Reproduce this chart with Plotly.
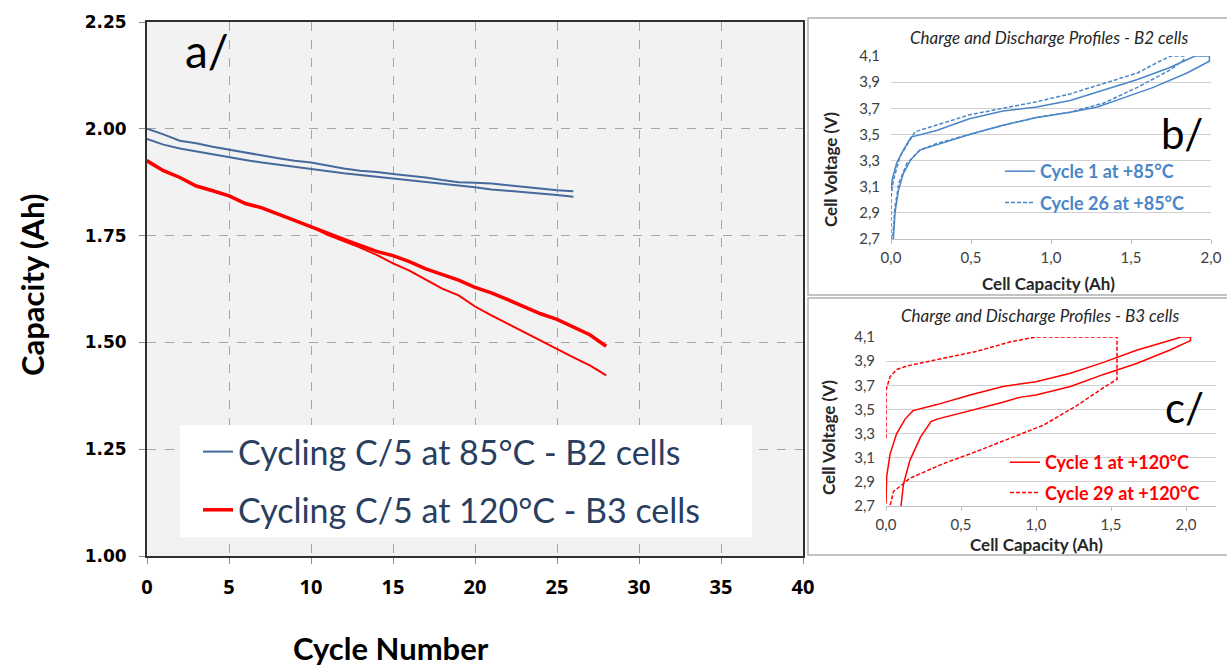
import plotly.graph_objects as go

W, H = 1227, 669

# ---- a/ capacity vs cycle number ----
cycles_b2 = list(range(0, 27))
cap_b2_cell1 = [2.000, 1.987, 1.972, 1.966, 1.958, 1.951, 1.944, 1.937, 1.931, 1.925,
                1.921, 1.914, 1.907, 1.902, 1.899, 1.894, 1.890, 1.886, 1.880, 1.875,
                1.874, 1.872, 1.868, 1.864, 1.860, 1.856, 1.854]
cap_b2_cell2 = [1.976, 1.963, 1.954, 1.947, 1.941, 1.933, 1.927, 1.921, 1.916, 1.910,
                1.905, 1.900, 1.896, 1.892, 1.888, 1.884, 1.880, 1.875, 1.871, 1.867,
                1.863, 1.858, 1.855, 1.852, 1.849, 1.845, 1.841]

cycles_b3 = list(range(0, 29))
cap_b3_cell1 = [1.925, 1.902, 1.886, 1.866, 1.855, 1.843, 1.825, 1.815, 1.800, 1.785,
                1.770, 1.754, 1.741, 1.727, 1.713, 1.703, 1.689, 1.672, 1.660, 1.646,
                1.629, 1.616, 1.600, 1.584, 1.567, 1.554, 1.537, 1.518, 1.491]
cap_b3_cell2 = [1.927, 1.903, 1.887, 1.867, 1.856, 1.844, 1.826, 1.816, 1.801, 1.786,
                1.771, 1.752, 1.737, 1.722, 1.705, 1.685, 1.668, 1.647, 1.626, 1.610,
                1.584, 1.563, 1.543, 1.524, 1.504, 1.484, 1.465, 1.446, 1.423]

# ---- b/ B2 cells charge / discharge profiles ----
b2_c1_cap = [0.00, 0.01, 0.035, 0.077, 0.125, 0.285, 0.49, 0.70, 0.91, 1.12, 1.33, 1.54,
             1.74, 1.90, 1.99, 1.99, 1.85, 1.64, 1.43, 1.29, 1.12, 0.91, 0.70, 0.49,
             0.285, 0.18, 0.12, 0.077, 0.046, 0.025, 0.015]
b2_c1_volt = [3.08, 3.17, 3.28, 3.38, 3.48, 3.53, 3.62, 3.68, 3.71, 3.76, 3.84, 3.92,
              4.01, 4.10, 4.10, 4.06, 3.97, 3.86, 3.77, 3.71, 3.67, 3.63, 3.57, 3.50,
              3.42, 3.38, 3.30, 3.20, 3.07, 2.90, 2.70]
b2_c26_cap = [0.00, 0.00, 0.015, 0.056, 0.15, 0.285, 0.49, 0.70, 0.91, 1.12, 1.33, 1.54,
              1.68, 1.75, 1.83, 1.83, 1.74, 1.54, 1.33, 1.12, 0.91, 0.70, 0.49, 0.285,
              0.18, 0.10, 0.05, 0.025, 0.01]
b2_c26_volt = [2.70, 3.02, 3.15, 3.33, 3.52, 3.57, 3.65, 3.70, 3.75, 3.81, 3.89, 3.97,
               4.06, 4.10, 4.10, 4.07, 3.99, 3.86, 3.74, 3.67, 3.63, 3.57, 3.50, 3.43,
               3.38, 3.28, 3.13, 2.95, 2.70]

# ---- c/ B3 cells charge / discharge profiles ----
b3_c1_cap = [0.00, 0.004, 0.027, 0.071, 0.127, 0.18, 0.34, 0.56, 0.78, 1.00, 1.23, 1.45,
             1.67, 1.89, 1.97, 2.03, 2.03, 1.89, 1.67, 1.45, 1.23, 1.00, 0.89, 0.78,
             0.56, 0.34, 0.30, 0.23, 0.16, 0.116, 0.10]
b3_c1_volt = [2.72, 2.94, 3.13, 3.30, 3.42, 3.49, 3.54, 3.62, 3.69, 3.73, 3.80, 3.89,
              3.99, 4.07, 4.10, 4.10, 4.07, 3.99, 3.88, 3.79, 3.69, 3.62, 3.60, 3.56,
              3.49, 3.42, 3.40, 3.27, 3.08, 2.88, 2.70]
b3_c29_cap = [0.00, 0.00, 0.027, 0.071, 0.138, 0.38, 0.60, 0.83, 1.00, 1.54, 1.54, 1.45,
              1.27, 1.05, 0.83, 0.60, 0.38, 0.16, 0.05, 0.027]
b3_c29_volt = [3.26, 3.66, 3.77, 3.83, 3.86, 3.92, 3.98, 4.06, 4.10, 4.10, 3.75, 3.68,
               3.53, 3.37, 3.26, 3.15, 3.05, 2.93, 2.82, 2.70]

volt_ticks = [2.7, 2.9, 3.1, 3.3, 3.5, 3.7, 3.9, 4.1]
volt_labels = ["2,7", "2,9", "3,1", "3,3", "3,5", "3,7", "3,9", "4,1"]
cap_ticks = [0, 0.5, 1.0, 1.5, 2.0]
cap_labels = ["0,0", "0,5", "1,0", "1,5", "2,0"]

BLUE_A = "#46699c"
RED = "#ff0000"
BLUE_B = "#4a86c8"


def px_x(v):
    return v / W


def px_y(v):
    return 1 - v / H


fig = go.Figure()

# main chart
fig.add_trace(go.Scatter(x=cycles_b2, y=cap_b2_cell1, mode="lines",
                         line=dict(color=BLUE_A, width=2),
                         name="Cycling C/5 at 85°C - B2 cells", legendgroup="b2"))
fig.add_trace(go.Scatter(x=cycles_b2, y=cap_b2_cell2, mode="lines",
                         line=dict(color=BLUE_A, width=2), showlegend=False))
fig.add_trace(go.Scatter(x=cycles_b3, y=cap_b3_cell1, mode="lines",
                         line=dict(color=RED, width=3.5),
                         name="Cycling C/5 at 120°C - B3 cells", legendgroup="b3"))
fig.add_trace(go.Scatter(x=cycles_b3, y=cap_b3_cell2, mode="lines",
                         line=dict(color=RED, width=2), showlegend=False))

# inset b
fig.add_trace(go.Scatter(x=b2_c1_cap, y=b2_c1_volt, mode="lines", xaxis="x2", yaxis="y2",
                         line=dict(color=BLUE_B, width=1.5),
                         name="Cycle 1 at +85°C", legend="legend2", legendgroup="b_1"))
fig.add_trace(go.Scatter(x=b2_c26_cap, y=b2_c26_volt, mode="lines", xaxis="x2", yaxis="y2",
                         line=dict(color=BLUE_B, width=1.5, dash="4px,2px"),
                         name="Cycle 26 at +85°C", legend="legend2", legendgroup="b_26"))

# inset c
fig.add_trace(go.Scatter(x=b3_c1_cap, y=b3_c1_volt, mode="lines", xaxis="x3", yaxis="y3",
                         line=dict(color=RED, width=1.5),
                         name="Cycle 1 at +120°C", legend="legend3", legendgroup="c_1"))
fig.add_trace(go.Scatter(x=b3_c29_cap, y=b3_c29_volt, mode="lines", xaxis="x3", yaxis="y3",
                         line=dict(color=RED, width=1.5, dash="4px,2px"),
                         name="Cycle 29 at +120°C", legend="legend3", legendgroup="c_29"))

main_x = dict(range=[0, 40], dtick=5, tick0=0,
              domain=[px_x(147), px_x(803)], anchor="y", automargin=False,
              showgrid=True, gridcolor="#a6a6a6", griddash="dash", gridwidth=1,
              showline=True, mirror=True, linecolor="#303030", linewidth=2,
              ticks="outside", ticklen=6, tickcolor="#8c8c8c", ticklabelstandoff=6,
              zeroline=False,
              tickfont=dict(family="Open Sans", size=20, color="#000000", weight="bold"))
main_y = dict(range=[1.0, 2.25], dtick=0.25, tick0=1.0, tickformat=".2f",
              domain=[px_y(556), px_y(22)], anchor="x", automargin=False,
              showgrid=True, gridcolor="#a6a6a6", griddash="dash", gridwidth=1,
              showline=True, mirror=True, linecolor="#303030", linewidth=2,
              ticks="outside", ticklen=6, tickcolor="#8c8c8c", ticklabelstandoff=9,
              zeroline=False,
              tickfont=dict(family="DejaVu Sans", size=17, color="#000000", weight="bold"))

inset_font = dict(family="Lato", size=15, color="#404040")


def inset_axes(xdom, ydom, xmax, xname, yname):
    xa = dict(range=[0, xmax], domain=xdom, anchor=yname, tickvals=cap_ticks,
              ticktext=cap_labels, showgrid=False, zeroline=False, automargin=False,
              showline=True, linecolor="#bfbfbf", linewidth=1,
              ticks="outside", ticklen=4, tickcolor="#bfbfbf", ticklabelstandoff=1,
              tickfont=inset_font)
    ya = dict(range=[2.7, 4.1], domain=ydom, anchor=xname, tickvals=volt_ticks,
              ticktext=volt_labels, showgrid=True, gridcolor="#d0d0d0", gridwidth=1,
              zeroline=False, showline=False, ticks="", ticklabelstandoff=10,
              automargin=False, tickfont=inset_font)
    return xa, ya


xa2, ya2 = inset_axes([px_x(891), px_x(1211)], [px_y(239), px_y(56)], 2.0, "x2", "y2")
xa3, ya3 = inset_axes([px_x(886), px_x(1216)], [px_y(506), px_y(337)], 2.2, "x3", "y3")

annotations = [
    dict(text="a/", x=px_x(207), y=px_y(50), font=dict(family="Lato", size=46, color="#000")),
    dict(text="b/", x=px_x(1182), y=px_y(133), font=dict(family="Lato", size=42, color="#000")),
    dict(text="c/", x=px_x(1184), y=px_y(407), font=dict(family="Lato", size=42, color="#000")),
    dict(text="Capacity (Ah)", x=px_x(32), y=px_y(285), textangle=-90,
         font=dict(family="Lato", size=31, color="#000", weight="bold")),
    dict(text="Cycle Number", x=px_x(391), y=px_y(648),
         font=dict(family="Lato", size=31, color="#000", weight="bold")),
    dict(text="Charge and Discharge Profiles - B2 cells", x=px_x(1049), y=px_y(38),
         font=dict(family="Lato", size=17, color="#262626", style="italic")),
    dict(text="Cell Capacity (Ah)", x=px_x(1048), y=px_y(283),
         font=dict(family="Lato", size=17, color="#262626", weight="bold")),
    dict(text="Cell Voltage (V)", x=px_x(830), y=px_y(170), textangle=-90,
         font=dict(family="Lato", size=17, color="#262626", weight="bold")),
    dict(text="Charge and Discharge Profiles - B3 cells", x=px_x(1040), y=px_y(315),
         font=dict(family="Lato", size=17, color="#262626", style="italic")),
    dict(text="Cell Capacity (Ah)", x=px_x(1036), y=px_y(544),
         font=dict(family="Lato", size=17, color="#262626", weight="bold")),
    dict(text="Cell Voltage (V)", x=px_x(828), y=px_y(438), textangle=-90,
         font=dict(family="Lato", size=17, color="#262626", weight="bold")),
]
for a in annotations:
    a.update(xref="paper", yref="paper", showarrow=False, xanchor="center", yanchor="middle")

shapes = [
    # grey plot area of the main chart
    dict(type="rect", xref="x domain", yref="y domain", x0=0, x1=1, y0=0, y1=1,
         fillcolor="#f2f2f2", line=dict(width=0), layer="below"),
    # white legend box
    dict(type="rect", xref="paper", yref="paper", x0=px_x(180), x1=px_x(752),
         y0=px_y(537), y1=px_y(425), fillcolor="white", line=dict(width=0), layer="above"),
    # inset frames
    dict(type="rect", xref="paper", yref="paper", x0=px_x(808), x1=px_x(1228),
         y0=px_y(295), y1=px_y(18), line=dict(color="#b0b0b0", width=1.5)),
    dict(type="rect", xref="paper", yref="paper", x0=px_x(808), x1=px_x(1228),
         y0=px_y(555), y1=px_y(298), line=dict(color="#b0b0b0", width=1.5)),
]

fig.update_layout(
    width=W, height=H,
    margin=dict(l=0, r=0, t=0, b=0, autoexpand=False),
    paper_bgcolor="white", plot_bgcolor="white",
    xaxis=main_x, yaxis=main_y,
    xaxis2=xa2, yaxis2=ya2, xaxis3=xa3, yaxis3=ya3,
    annotations=annotations, shapes=shapes,
    legend=dict(x=px_x(198), y=px_y(423), xanchor="left", yanchor="top",
                bgcolor="rgba(0,0,0,0)", traceorder="grouped", tracegroupgap=11,
                font=dict(family="Lato", size=34), itemwidth=30),
    legend2=dict(x=px_x(1000), y=px_y(153), xanchor="left", yanchor="top",
                 bgcolor="rgba(0,0,0,0)", traceorder="grouped", tracegroupgap=5,
                 font=dict(family="Lato", size=18, color=BLUE_B, weight="bold"), itemwidth=30),
    legend3=dict(x=px_x(1005), y=px_y(444), xanchor="left", yanchor="top",
                 bgcolor="rgba(0,0,0,0)", traceorder="grouped", tracegroupgap=4,
                 font=dict(family="Lato", size=18, color=RED, weight="bold"), itemwidth=30),
)

# drop the browser's default 8px body margin so the figure sits at the page origin
fig.write_html("out.html", config={"displayModeBar": False},
               post_script="document.body.style.margin = '0';")
